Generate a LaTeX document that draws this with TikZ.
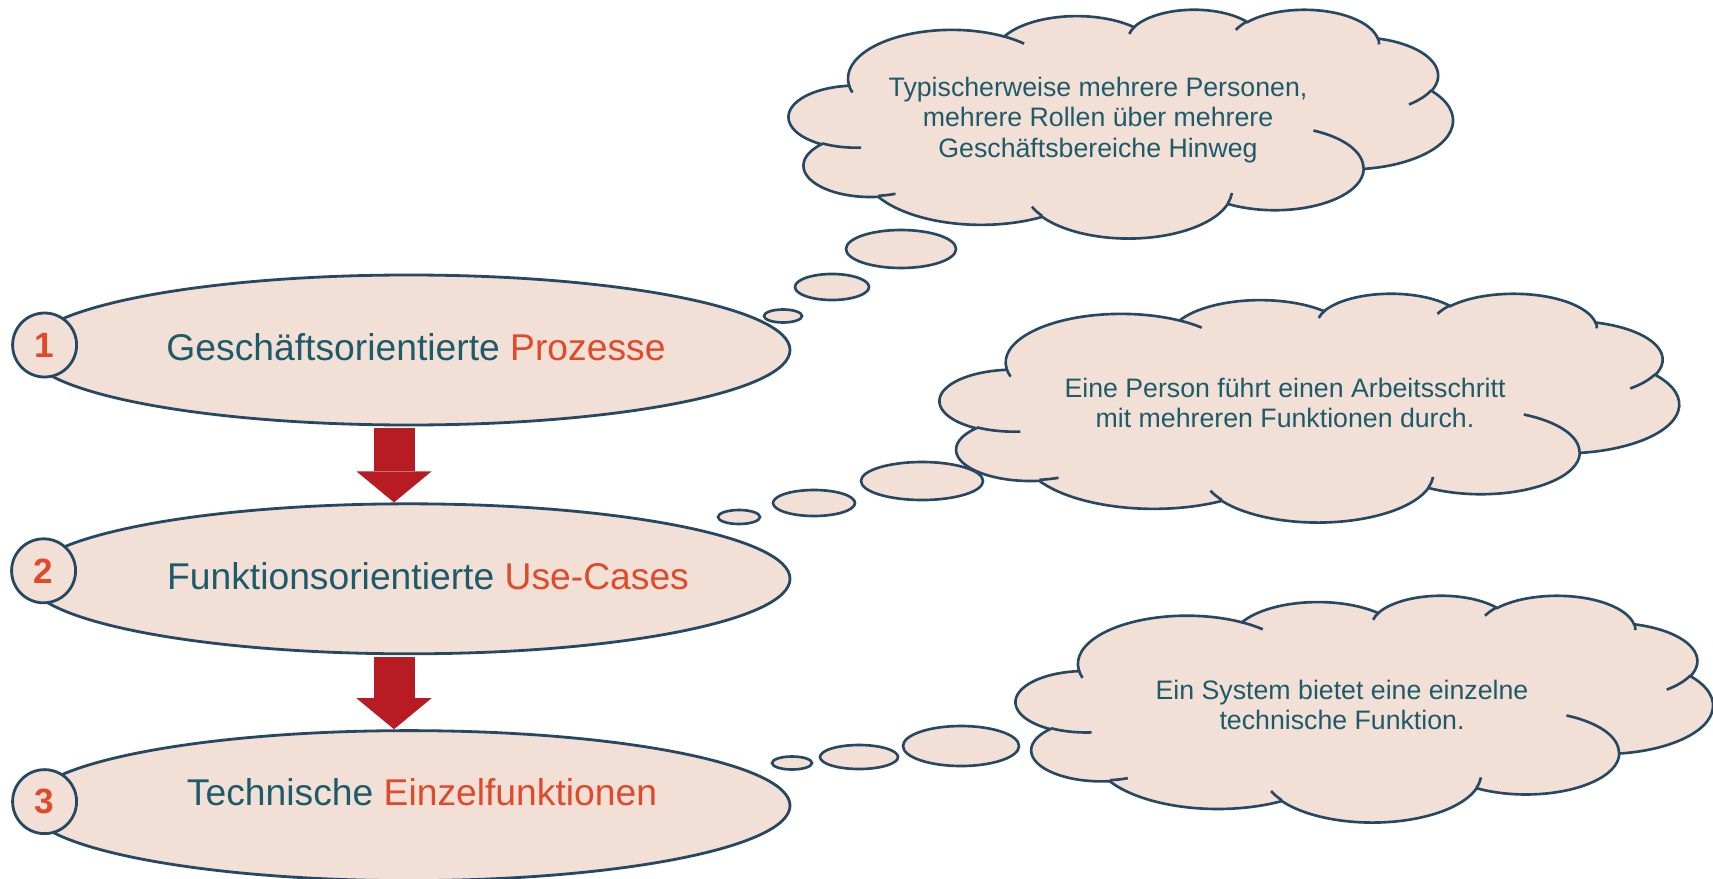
\documentclass[tikz,border=0pt]{standalone}
\usepackage{fontspec}
\setmainfont{Liberation Sans}
\usepackage{tikz}
\usetikzlibrary{positioning}
\usetikzlibrary{arrows.meta}
\usetikzlibrary{shapes,shapes.geometric}
\definecolor{peach}{HTML}{F2E0D6}
\definecolor{edge}{HTML}{264863}
\definecolor{textteal}{HTML}{1E5B6A}
\definecolor{hilite}{HTML}{E04A2B}
\definecolor{arrowred}{HTML}{B71C23}
\tikzstyle{level} = [draw=edge, fill=peach, ellipse, line width=0.8pt, inner sep=0pt, minimum width=7.62cm, minimum height=1.5cm]
\tikzstyle{leveltext} = [inner sep=0pt, text=textteal, font=\fontsize{10.6}{12}\selectfont]
\tikzstyle{nummer} = [draw=edge, fill=peach, circle, line width=0.8pt, minimum size=6.4mm, inner sep=0pt, text=hilite, font=\bfseries\fontsize{10}{12}\selectfont]
\tikzstyle{wolkenrand} = [draw=edge, fill=peach, line width=0.75pt]
\tikzstyle{blase} = [draw=edge, fill=peach, ellipse, line width=0.75pt, inner sep=0pt]
\tikzstyle{wolkentext} = [align=center, text=textteal, font=\fontsize{7.6}{8.7}\selectfont]
\tikzstyle{pfeil} = [draw=arrowred, line width=4.1mm, shorten <=0.5pt, -{Triangle[width=7.5mm,length=3.1mm,line width=0pt]}]
% Wolke im Rahmen 432 x 432
\tikzset{
	declare function={pa(\ang,\wr,\hr)=atan2(\wr*sin(\ang),\hr*cos(\ang))+360*round((\ang-atan2(\wr*sin(\ang),\hr*cos(\ang)))/360);},
	wolke/.pic={
		\draw [wolkenrand] (39,143.7)
			foreach \rx/\ry/\sa/\sb in {67.53/91.90/-190.4875/123.7805, 53.33/72.67/-144.1024/89.9452, 43.65/59.45/-145.8079/99.7230, 48.57/65.95/-130.9861/117.2417, 53.33/72.73/-78.7089/109.0269, 67.75/92.20/-46.2673/130.2690, 57.85/78.67/0.6250/114.0333, 67.52/92.15/22.4516/115.1726, 77.20/105.43/66.2426/75.7110, 43.60/59.18/-274.9421/146.7356, 43.45/59.45/-246.8285/152.5189}
			{ arc [x radius=\rx, y radius=\ry, start angle={pa(\sa,\rx,\ry)}, end angle={pa(\sa+\sb,\rx,\ry)}] } -- cycle;
		\draw [wolkenrand, fill=none]
			foreach \px/\py/\rx/\ry/\sa/\sb in {46.93/261.77/43.45/59.45/86.7420/26.4295, 69.28/348.99/43.60/59.18/73.6105/11.4475, 164.78/390.90/67.52/92.15/137.6242/14.0811, 288.27/347.51/67.52/92.15/6.4533/15.9984, 341.29/229.54/57.85/78.67/-70.2924/70.9174, 417.98/153.54/53.33/72.73/30.3180/27.7515, 383.24/54.26/48.57/65.95/-13.7443/14.8589, 290.78/39.52/48.57/65.95/-149.1815/18.1954, 221.41/47.20/43.65/59.45/-163.4943/17.6864, 140.00/51.92/67.53/91.90/-66.7070/12.3194, 41.27/157.89/67.53/91.90/157.6544/11.8582}
			{ (\px,\py) arc [x radius=\rx, y radius=\ry, start angle={pa(\sa,\rx,\ry)}, end angle={pa(\sa+\sb,\rx,\ry)}] };
	}
}

\begin{document}
\begin{tikzpicture}
	\useasboundingbox (0,0) rectangle (17.13,-8.78);
	% Ebenen
	\node [level] (p1) at (4.09,-3.50) {};
	\node [level, node distance=7.6mm, below=of p1] (p2) {};
	\node [level, node distance=7.4mm, below=of p2] (p3) {};
	\node [leveltext] (l1) at ([xshift=0.7mm,yshift=0.25mm]p1) {Geschäftsorientierte \textcolor{hilite}{Prozesse}};
	\node [leveltext] (l2) at ([xshift=1.9mm,yshift=0.25mm]p2) {Funktionsorientierte \textcolor{hilite}{Use-Cases}};
	\node [leveltext] (l3) at ([xshift=1.3mm,yshift=1.3mm]p3) {Technische \textcolor{hilite}{Einzelfunktionen}};

	\node [nummer] (n1) at ([xshift=1.8mm,yshift=0.5mm]p1.west) {1};
	\node [nummer] (n2) at ([xshift=1.7mm,yshift=0.8mm]p2.west) {2};
	\node [nummer] (n3) at ([xshift=1.8mm,yshift=0.4mm]p3.west) {3};

	\draw [pfeil] ([xshift=-1.5mm]p1.south) -- ([xshift=-1.5mm]p2.north);
	\draw [pfeil] ([xshift=-1.5mm]p2.south) -- ([xshift=-1.5mm]p3.north);

	% Wolken
	\pic [x=0.015370cm, y=-0.005301cm] (w1) at (7.89cm,-0.09cm) {wolke};
	\node [wolkentext] (t1) at (10.98,-1.20) {Typischerweise mehrere Personen,\\mehrere Rollen über mehrere\\Geschäftsbereiche Hinweg};
	\node [blase, minimum width=1.1cm, minimum height=0.38cm] (b11) at (9.01,-2.49) {};
	\node [blase, minimum width=0.74cm, minimum height=0.26cm] (b12) at (8.32,-2.87) {};
	\node [blase, minimum width=0.38cm, minimum height=0.13cm] (b13) at (7.83,-3.16) {};

	\pic [x=0.017106cm, y=-0.005301cm] (w2) at (9.40cm,-2.93cm) {wolke};
	\node [wolkentext] (t2) at (12.85,-4.03) {Eine Person führt einen Arbeitsschritt\\mit mehreren Funktionen durch.};
	\node [blase, minimum width=1.22cm, minimum height=0.38cm] (b21) at (9.22,-4.81) {};
	\node [blase, minimum width=0.82cm, minimum height=0.26cm] (b22) at (8.14,-5.03) {};
	\node [blase, minimum width=0.42cm, minimum height=0.14cm] (b23) at (7.39,-5.17) {};

	\pic [x=0.016134cm, y=-0.005255cm] (w3) at (10.16cm,-5.95cm) {wolke};
	\node [wolkentext] (t3) at (13.42,-7.05) {Ein System bietet eine einzelne\\technische Funktion.};
	\node [blase, minimum width=1.16cm, minimum height=0.40cm] (b31) at (9.61,-7.46) {};
	\node [blase, minimum width=0.78cm, minimum height=0.24cm] (b32) at (8.59,-7.57) {};
	\node [blase, minimum width=0.40cm, minimum height=0.13cm] (b33) at (7.92,-7.63) {};

\end{tikzpicture}
\end{document}
